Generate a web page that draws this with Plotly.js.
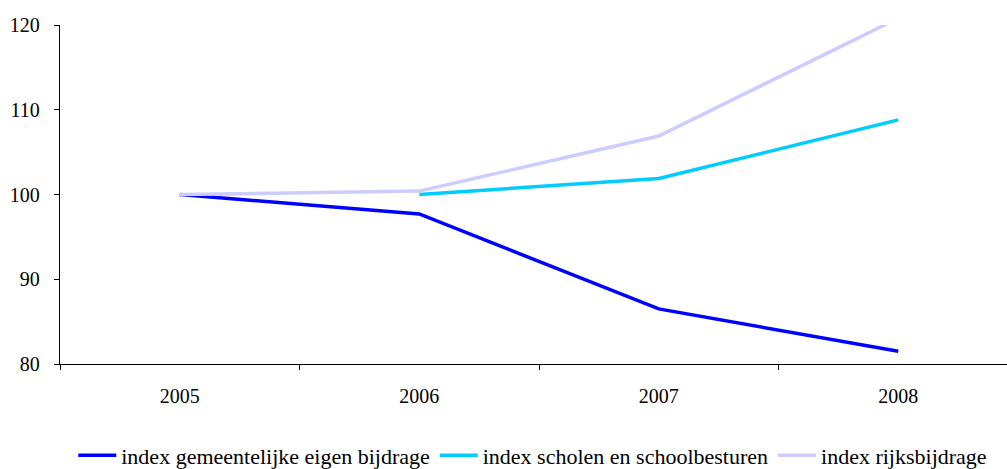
<!DOCTYPE html>
<html><head><meta charset="utf-8">
<script src="https://cdn.plot.ly/plotly-3.0.1.min.js"></script>
<style>body{margin:0;background:#fff}#chart{width:1007px;height:469px}</style>
</head><body><div id="chart"></div>
<script>
const years = ['2005','2006','2007','2008'];
const gemeentelijk = [100, 97.7, 86.5, 81.5];
const scholen = [null, 100, 101.9, 108.8];
const rijks = [100, 100.4, 106.9, 120.8];
const names = ['index gemeentelijke eigen bijdrage','index scholen en schoolbesturen','index rijksbijdrage'];
const colors = ['#0000FF','#00CCFF','#CCCCFF'];
const series = [gemeentelijk, scholen, rijks];
const traces = series.map((s,i)=>({x:years,y:s,name:names[i],type:'scatter',mode:'lines',
  line:{color:colors[i],width:3.5},connectgaps:false}));
const fam = 'Liberation Serif, Times New Roman, serif';
Plotly.newPlot('chart', traces, {
  width:1007, height:469,
  margin:{l:60,r:0,t:25,b:105},
  paper_bgcolor:'#fff', plot_bgcolor:'#fff',
  font:{family:fam,color:'#000',size:20},
  showlegend:true,
  legend:{orientation:'h',x:0.014,xanchor:'left',yref:'container',y:0.029,yanchor:'middle',
    itemwidth:38,font:{family:fam,size:22,color:'#000'},traceorder:'normal'},
  xaxis:{type:'category',range:[-0.5,3.454],tickson:'boundaries',ticks:'outside',ticklen:5,tickcolor:'#000',
    showline:true,linecolor:'#000',linewidth:1.3,showgrid:false,zeroline:false,ticklabelstandoff:14,fixedrange:true,
    tickfont:{family:fam,size:20,color:'#000'}},
  yaxis:{range:[80,120],tickvals:[80,90,100,110,120],ticks:'outside',ticklen:5,tickcolor:'#000',
    showline:true,linecolor:'#000',linewidth:1.3,showgrid:false,zeroline:false,ticklabelstandoff:10,fixedrange:true,
    tickfont:{family:fam,size:20,color:'#000'}}
}, {displayModeBar:false, staticPlot:true});
</script></body></html>
